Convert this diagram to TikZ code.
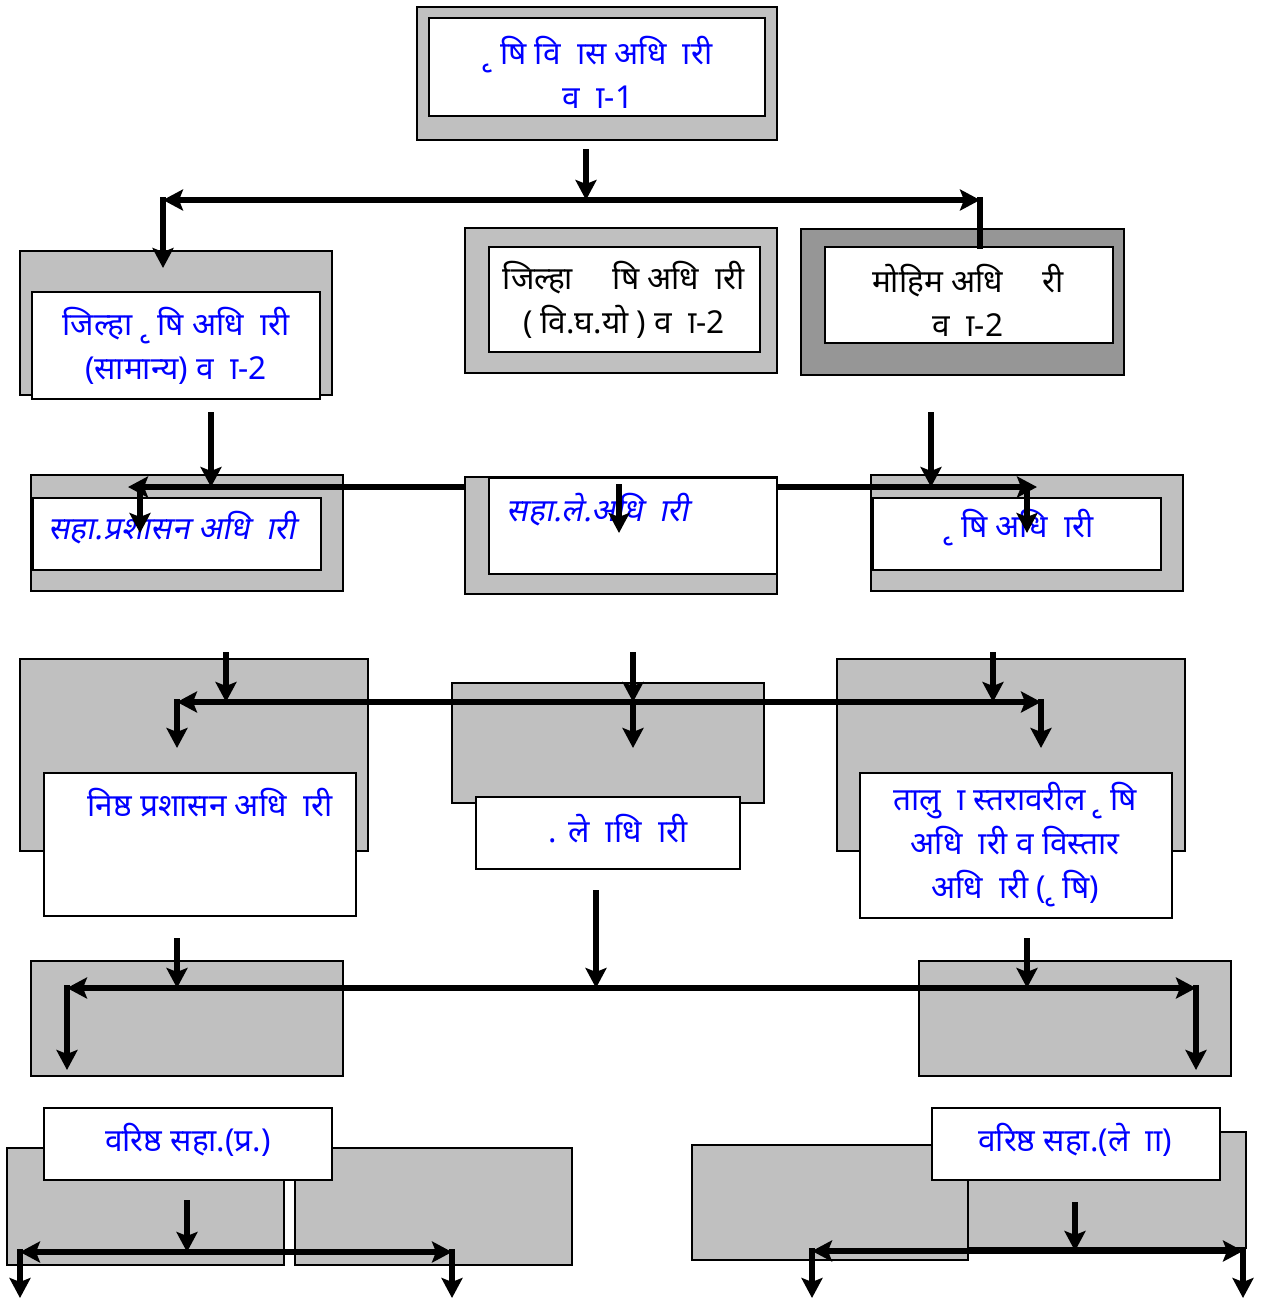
\documentclass[tikz,border=0pt]{standalone}
\usepackage{fontspec}
\newfontfamily\dev[Script=Devanagari]{Noto Sans}
\newfontfamily\devit[Script=Devanagari,FakeSlant=0.2]{Noto Sans}
\usetikzlibrary{arrows.meta,fit}
\definecolor{boxgray}{HTML}{C0C0C0}
\definecolor{darkbox}{HTML}{969696}
\definecolor{txtblue}{HTML}{0000FF}
\tikzset{
  gbox/.style={draw=black, line width=0.9pt, fill=boxgray, inner sep=0pt},
  dbox/.style={draw=black, line width=0.9pt, fill=darkbox, inner sep=0pt},
  wbox/.style={draw=black, line width=1.1pt, fill=white, inner sep=0pt},
  conn/.style={line width=2.9pt, line cap=rect, -{Stealth[length=10pt,width=10.5pt,inset=2pt]}},
  bar/.style={line width=2.9pt, line cap=rect},
  lbl/.style={font=\dev\fontsize{15.8}{22}\selectfont, align=center, inner sep=0pt},
  lblit/.style={font=\devit\fontsize{15.8}{22}\selectfont, align=center, inner sep=0pt},
}
\begin{document}
\begin{tikzpicture}[x=0.5pt,y=-0.5pt]
\useasboundingbox (0,0) rectangle (1262,1306);

% ---------- row 1
\node[gbox, fit={(417,7)(777,140)}] (b1o) {};
\node[wbox, fit={(429,18)(765,116)}] (b1i) {};
\node[lbl, text=txtblue] (t1) at (598,72) {^^^^00a0ृ षि वि ^^^^00a0ास अधि ^^^^00a0ारी\\व ^^^^00a0ा-1};

% ---------- row 2
\node[gbox, fit={(20,251)(332,395)}] (b2Lo) {};
\node[wbox, fit={(32,292)(320,399)}] (b2Li) {};
\node[lbl, text=txtblue] (t2L) at (176,346) {जिल्हा ^^^^00a0ृ षि अधि ^^^^00a0ारी\\(सामान्य) व ^^^^00a0ा-2};
\node[gbox, fit={(465,228)(777,373)}] (b2Mo) {};
\node[wbox, fit={(489,247)(760,352)}] (b2Mi) {};
\node[lbl, text=black] (t2M) at (624,300) {जिल्हा \quad षि अधि ^^^^00a0ारी\\( वि.घ.यो ) व ^^^^00a0ा-2};
\node[dbox, fit={(801,229)(1124,375)}] (b2Ro) {};
\node[wbox, fit={(825,247)(1113,343)}] (b2Ri) {};
\node[lbl, text=black] (t2R) at (968,300) {मोहिम अधि \quad री\\व ^^^^00a0ा-2};

\coordinate (a1s) at (586,152);
\coordinate (j1) at (586,200);
\coordinate (j1L) at (163,200);
\coordinate (j1R) at (980,200);
\coordinate (a1Le) at (163,268);
\draw[conn] (a1s) -- (j1);
\draw[conn] (j1) -- (j1L);
\draw[conn] (j1) -- (j1R);
\draw[conn] (j1L) -- (a1Le);
\draw[bar] (j1R) -- (j1R |- b2Ri.north);

% ---------- row 3
\node[gbox, fit={(31,475)(343,591)}] (b3Lo) {};
\node[wbox, fit={(33,498)(321,570)}] (b3Li) {};
\node[lblit, text=txtblue] (t3L) at (172,528) {सहा.प्रशासन अधि ^^^^00a0ारी};
\node[gbox, fit={(871,475)(1183,591)}] (b3Ro) {};
\node[wbox, fit={(873,498)(1161,570)}] (b3Ri) {};
\node[lbl, text=txtblue] (t3R) at (1019,528) {^^^^00a0ृ षि अधि ^^^^00a0ारी};

\coordinate (a2Ls) at (211,415);
\coordinate (a2Le) at (211,487);
\coordinate (a2Rs) at (931,415);
\coordinate (a2Re) at (931,487);
\coordinate (h2m) at (600,487);
\coordinate (h2L) at (128,487);
\coordinate (h2R) at (1037,487);
\coordinate (v2Ls) at (140,487);
\coordinate (v2Le) at (140,533);
\coordinate (v2Rs) at (1027,487);
\coordinate (v2Re) at (1027,533);
\draw[conn] (h2m) -- (h2L);
\draw[conn] (h2m) -- (h2R);

\node[gbox, fit={(465,477)(777,594)}] (b3Mo) {};
\node[wbox, fit={(489,478)(777,574)}] (b3Mi) {};
\node[lblit, text=txtblue] (t3M) at (598,510) {सहा.ले.अधि ^^^^00a0ारी};

\coordinate (m2s) at (619,487);
\coordinate (m2e) at (619,533);
\draw[conn] (m2s) -- (m2e);
\draw[conn] (a2Ls) -- (a2Le);
\draw[conn] (a2Rs) -- (a2Re);
\draw[conn] (v2Ls) -- (v2Le);
\draw[conn] (v2Rs) -- (v2Re);

% ---------- row 4
\node[gbox, fit={(20,659)(368,851)}] (b4Lo) {};
\node[wbox, fit={(44,773)(356,916)}] (b4Li) {};
\node[lbl, text=txtblue] (t4L) at (210,803) {निष्ठ प्रशासन अधि ^^^^00a0ारी};
\node[gbox, fit={(452,683)(764,803)}] (b4Mo) {};
\node[wbox, fit={(476,797)(740,869)}] (b4Mi) {};
\node[lbl, text=txtblue] (t4M) at (618,829) {. ले ^^^^00a0ाधि ^^^^00a0ारी};
\node[gbox, fit={(837,659)(1185,851)}] (b4Ro) {};
\node[wbox, fit={(860,773)(1172,918)}] (b4Ri) {};
\node[lbl, text=txtblue] (t4R) at (1015,845) {तालु ^^^^00a0ा स्तरावरील ^^^^00a0ृ षि\\अधि ^^^^00a0ारी व विस्तार\\अधि ^^^^00a0ारी (^^^^00a0ृ षि)};

\coordinate (a3as) at (226,655);
\coordinate (a3ae) at (226,702);
\coordinate (a3bs) at (633,655);
\coordinate (h3m) at (633,702);
\coordinate (a3cs) at (993,655);
\coordinate (a3ce) at (993,702);
\coordinate (h3L) at (177,702);
\coordinate (h3R) at (1041,702);
\coordinate (d3L) at (177,748);
\coordinate (d3M) at (633,748);
\coordinate (d3R) at (1041,748);
\draw[conn] (h3m) -- (h3L);
\draw[conn] (h3m) -- (h3R);
\draw[conn] (a3as) -- (a3ae);
\draw[conn] (a3bs) -- (h3m);
\draw[conn] (a3cs) -- (a3ce);
\draw[conn] (h3L) -- (d3L);
\draw[conn] (h3m) -- (d3M);
\draw[conn] (h3R) -- (d3R);

% ---------- row 5
\node[gbox, fit={(31,961)(343,1076)}] (b5L) {};
\node[gbox, fit={(919,961)(1231,1076)}] (b5R) {};
\coordinate (a4as) at (177,941);
\coordinate (a4ae) at (177,988);
\coordinate (a4bs) at (596,893);
\coordinate (h4m) at (596,988);
\coordinate (a4cs) at (1027,941);
\coordinate (a4ce) at (1027,988);
\coordinate (h4L) at (67,988);
\coordinate (h4R) at (1196,988);
\coordinate (d4L) at (67,1070);
\coordinate (d4R) at (1196,1070);
\draw[conn] (h4m) -- (h4L);
\draw[conn] (h4m) -- (h4R);
\draw[conn] (a4as) -- (a4ae);
\draw[conn] (a4bs) -- (h4m);
\draw[conn] (a4cs) -- (a4ce);
\draw[conn] (h4L) -- (d4L);
\draw[conn] (h4R) -- (d4R);

% ---------- row 6 left
\node[gbox, fit={(7,1148)(284,1265)}] (b6A) {};
\node[gbox, fit={(295,1148)(572,1265)}] (b6B) {};
\node[wbox, fit={(44,1108)(332,1180)}] (b6Lw) {};
\node[lbl, text=txtblue] (t6L) at (188,1140) {वरिष्ठ सहा.(प्र.)};
\coordinate (a5Ls) at (187,1203);
\coordinate (h5Lm) at (187,1252);
\coordinate (h5LL) at (20,1252);
\coordinate (h5LR) at (452,1252);
\coordinate (d5LL) at (20,1298);
\coordinate (d5LR) at (452,1298);
\draw[conn] (h5Lm) -- (h5LL);
\draw[conn] (h5Lm) -- (h5LR);
\draw[conn] (a5Ls) -- (h5Lm);
\draw[conn] (h5LL) -- (d5LL);
\draw[conn] (h5LR) -- (d5LR);

% ---------- row 6 right
\node[gbox, fit={(968,1132)(1246,1248)}] (b6D) {};
\node[gbox, fit={(692,1145)(968,1260)}] (b6C) {};
\node[wbox, fit={(932,1108)(1220,1180)}] (b6Rw) {};
\node[lbl, text=txtblue] (t6R) at (1075,1140) {वरिष्ठ सहा.(ले ^^^^00a0ाा)};
\coordinate (a5Rs) at (1075,1205);
\coordinate (h5Rm) at (1075,1251);
\coordinate (h5RL) at (812,1251);
\coordinate (h5RR) at (1243,1251);
\coordinate (d5RL) at (812,1298);
\coordinate (d5RR) at (1243,1298);
\draw[conn] (h5Rm) -- (h5RL);
\draw[conn] (h5Rm) -- (h5RR);
\draw[conn] (a5Rs) -- (h5Rm);
\draw[conn] (h5RL) -- (d5RL);
\draw[conn] (h5RR) -- (d5RR);
\end{tikzpicture}
\end{document}
